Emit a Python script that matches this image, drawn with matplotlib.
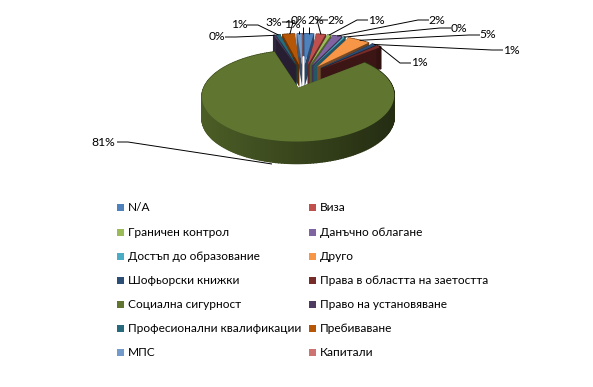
import numpy as np
import matplotlib
matplotlib.use("Agg")
import matplotlib.pyplot as plt
from matplotlib.colors import to_rgb
from matplotlib.patches import Polygon, Rectangle

plt.rcParams['font.family'] = ['Lato', 'Noto Sans', 'DejaVu Sans']

categories = ['N/A', 'Виза', 'Граничен контрол', 'Данъчно облагане',
              'Достъп до образование', 'Друго', 'Шофьорски книжки',
              'Права в областта на заетостта', 'Социална сигурност',
              'Право на установяване', 'Професионални квалификации',
              'Пребиваване', 'МПС', 'Капитали']
values = [2.0, 2.0, 0.8, 2.0, 0.4, 4.8, 1.0, 1.0, 81.0, 0.4, 0.9, 2.6, 1.0, 0.1]
labels = ['2%', '2%', '1%', '2%', '0%', '5%', '1%', '1%', '81%', '0%', '1%', '3%', '1%', '0%']
colors = ['#4F81BD', '#C0504D', '#9BBB59', '#8064A2', '#4BACC6', '#F79646', '#2C4D75',
          '#772C2A', '#5F7530', '#4D3B62', '#276A7C', '#B65708', '#729ACA', '#CD7371']

# where each percentage label sits, same order as categories
label_x = [316, 336, 376, 437, 459, 488, 511, 419, 103, 217, 239, 274, 292, 299]
label_y = [20, 20, 20, 20, 28, 35, 50, 63, 142, 37, 25, 22, 24, 20]

# fake 3d pie: unit disc seen through a simple perspective
CX, CY = 303, 76
A, B, K = 90, 40, 0.172
EXPLODE = 0.29
DEPTH = 22
MAIN = 8
MAIN_DX = 3  # big slice sits a bit more to the right than the explode gives


def project(u, v):
    w = 1 + K * v
    return CX + A * u / w, CY - B * v / w


def shade(color, f):
    return tuple(c * f for c in to_rgb(color))


def slice_outline(start, end, dx):
    mid = (start + end) / 2
    ou, ov = EXPLODE * np.sin(mid), EXPLODE * np.cos(mid)
    th = np.linspace(start, end, max(3, int((end - start) * 40)))
    ax_, ay_ = project(ou, ov)
    rx, ry = project(ou + np.sin(th), ov + np.cos(th))
    return (ax_ + dx, ay_), rx + dx, ry


fig = plt.figure(figsize=(5.93, 3.87), dpi=100)
ax = fig.add_axes([0, 0, 1, 1])
ax.set_xlim(0, 593)
ax.set_ylim(387, 0)
ax.axis('off')

edges = np.cumsum([0] + values) / sum(values) * 2 * np.pi
mids = (edges[:-1] + edges[1:]) / 2

# back slices first, the big one goes on top
outer_pts = {}
for i in sorted(range(len(values)), key=lambda j: -np.cos(mids[j])):
    apex, rx, ry = slice_outline(edges[i], edges[i + 1], MAIN_DX if i == MAIN else 0)
    c = colors[i]
    outer_pts[i] = (rx[len(rx) // 2], ry[len(ry) // 2])
    # radial walls
    for k in (0, -1):
        wall = [apex, (rx[k], ry[k]), (rx[k], ry[k] + DEPTH), (apex[0], apex[1] + DEPTH)]
        ax.add_patch(Polygon(wall, closed=True, fc=shade(c, 0.5), ec='none', zorder=2))
    # rim, darker towards the right like the original
    for k in range(len(rx) - 1):
        t = np.clip((rx[k] - 200) / 195, 0, 1)
        f = 0.8 - 0.42 * t
        quad = [(rx[k], ry[k]), (rx[k + 1], ry[k + 1]),
                (rx[k + 1], ry[k + 1] + DEPTH), (rx[k], ry[k] + DEPTH)]
        ax.add_patch(Polygon(quad, closed=True, fc=shade(c, f), ec=shade(c, f), lw=1.0, zorder=2))
    top = [apex] + list(zip(rx, ry))
    ax.add_patch(Polygon(top, closed=True, fc=c, ec='none', zorder=2))

# labels with leader lines
for i, txt in enumerate(labels):
    x, y = label_x[i], label_y[i]
    tx, ty = outer_pts[i]
    if i == MAIN:
        tx, ty = 272, 164
    side = 1 if tx > x + 6 else -1
    if abs(tx - x) < 14 and ty > y:
        pts = [(tx, y + 7), (tx, ty)]
    else:
        half = 7 if i != MAIN else 13
        pts = [(x + side * (half + 1), y), (x + side * (half + 12), y), (tx, ty)]
    ax.plot(*zip(*pts), color='black', lw=0.7, zorder=3, solid_capstyle='butt')
    ax.text(x, y, txt, ha='center', va='center', fontsize=8.7, color='black', zorder=4)

# legend, two columns
leg_x = [117, 309]
leg_y = [207.3, 232.3, 256.7, 280.7, 304.3, 328.3, 352.3]
for i, name in enumerate(categories):
    col = i % 2
    y = leg_y[i // 2]
    ax.add_patch(Rectangle((leg_x[col], y - 3.5), 7, 7, fc=colors[i], ec='none'))
    ax.text(leg_x[col] + 11, y, name, ha='left', va='center', fontsize=8.6, color='black')

fig.savefig('out.png', dpi=100)
